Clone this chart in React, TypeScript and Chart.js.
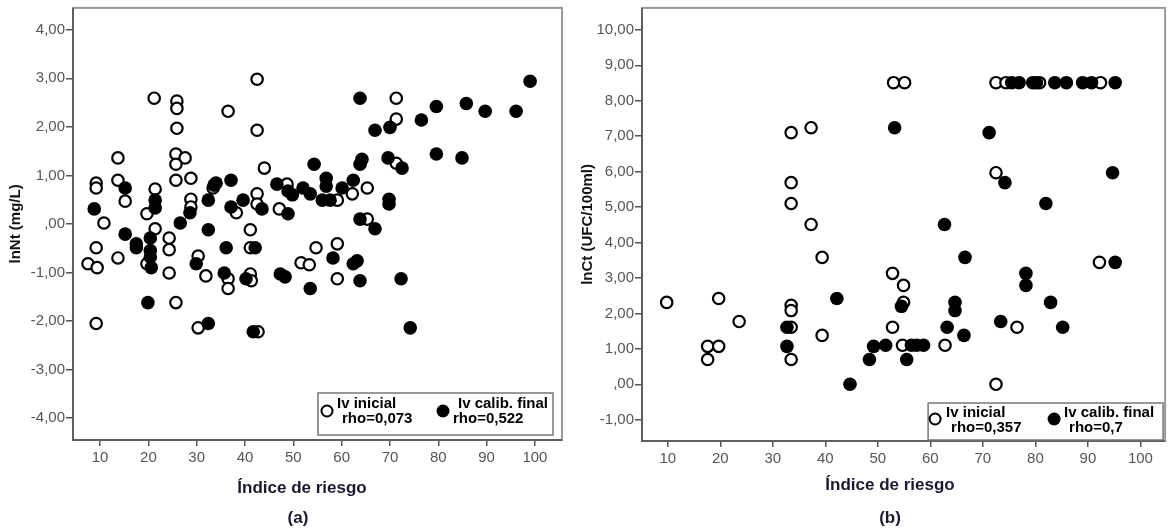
import React, { useEffect, useRef } from "react";
import { Chart, registerables } from "chart.js";

Chart.register(...registerables);

// ---------- DATA ----------
const xTickValues = [10, 20, 30, 40, 50, 60, 70, 80, 90, 100];
const xTickLabels = ["10", "20", "30", "40", "50", "60", "70", "80", "90", "100"];

const yTickValuesA = [-4, -3, -2, -1, 0, 1, 2, 3, 4];
const yTickLabelsA = ["-4,00", "-3,00", "-2,00", "-1,00", ",00", "1,00", "2,00", "3,00", "4,00"];

const yTickValuesB = [-1, 0, 1, 2, 3, 4, 5, 6, 7, 8, 9, 10];
const yTickLabelsB = ["-1,00", ",00", "1,00", "2,00", "3,00", "4,00", "5,00", "6,00", "7,00", "8,00", "9,00", "10,00"];

const seriesNames = ["Iv inicial", "Iv calib. final"];
const rhoLabelsA = ["rho=0,073", "rho=0,522"];
const rhoLabelsB = ["rho=0,357", "rho=0,7"];

const xTitle = "Índice de riesgo";
const yTitleA = "lnNt (mg/L)";
const yTitleB = "lnCt (UFC/100ml)";
const panelLabels = ["(a)", "(b)"];

// Panel (a) - Iv inicial (open circles)
const xOpenA = [7.5, 9.4, 9.2, 9.2, 10.8, 9.2, 9.2, 13.7, 13.7, 15.2, 13.7, 19.7, 21.4, 21.2, 21.4, 19.7, 24.3, 24.3, 24.3, 25.7, 25.9, 25.9, 25.9, 25.7, 27.6, 25.7, 25.7, 28.8, 28.8, 28.8, 30.3, 31.9, 30.3, 33.4, 36.5, 38.2, 36.5, 36.5, 41.1, 41.1, 41.1, 41.3, 42.7, 42.5, 42.5, 44.0, 42.5, 42.5, 47.1, 48.7, 51.6, 53.3, 54.7, 59.1, 59.1, 59.1, 62.2, 65.3, 65.3, 71.3, 71.3, 71.3];
const yOpenA = [-0.82, -0.9, 0.84, 0.74, 0.02, -0.49, -2.05, 1.36, 0.9, 0.47, -0.7, 0.21, 0.72, 2.59, -0.1, -0.82, -0.29, -0.53, -1.01, -1.62, 2.53, 2.38, 1.97, 1.44, 1.36, 1.23, 0.9, 0.94, 0.51, 0.35, -0.66, -1.07, -2.14, 0.74, 2.32, 0.23, -1.13, -1.33, -0.12, -0.49, -1.03, -1.17, -2.22, 2.98, 1.93, 1.15, 0.62, 0.41, 0.31, 0.82, -0.8, -0.84, -0.49, 0.49, -0.41, -1.13, 0.62, 0.74, 0.1, 2.59, 2.16, 1.25];

// Panel (a) - Iv calib. final (filled circles)
const xFillA = [8.8, 15.2, 15.2, 17.5, 17.5, 21.4, 21.4, 20.4, 20.4, 20.4, 20.6, 19.9, 28.6, 26.6, 29.9, 32.4, 32.4, 32.4, 34.0, 33.6, 37.1, 37.1, 36.1, 35.7, 39.6, 40.2, 42.1, 41.7, 43.5, 46.6, 48.9, 49.8, 48.9, 47.3, 48.3, 52.0, 53.5, 54.3, 56.8, 56.8, 56.0, 57.6, 60.1, 62.4, 58.2, 62.4, 63.2, 53.5, 63.8, 63.8, 66.9, 63.8, 64.2, 63.8, 66.9, 70.0, 69.6, 72.5, 69.8, 69.8, 72.3, 74.2, 76.5, 79.6, 79.6, 84.9, 85.8, 89.7, 96.1, 99.0];
const yFillA = [0.31, 0.74, -0.21, -0.41, -0.49, 0.49, 0.33, -0.29, -0.55, -0.68, -0.9, -1.62, 0.23, 0.02, -0.82, -2.05, 0.49, -0.12, 0.84, 0.8, 0.9, 0.35, -0.49, -1.01, 0.49, -1.13, -0.49, -2.22, 0.31, 0.82, 0.68, 0.6, 0.21, -1.03, -1.09, 0.74, 0.62, 1.23, 0.94, 0.78, 0.49, 0.49, 0.74, 0.9, -0.7, -0.82, -0.76, -1.33, -1.17, 0.1, -0.1, 2.59, 1.33, 1.23, 1.93, 1.99, 1.36, 1.15, 0.51, 0.41, -1.13, -2.14, 2.14, 2.42, 1.44, 1.36, 2.48, 2.32, 2.32, 2.94];

// Panel (b) - Iv inicial (open circles)
const xOpenB = [9.8, 17.6, 17.6, 19.7, 19.7, 23.6, 33.5, 33.5, 33.5, 33.5, 33.5, 33.5, 33.5, 37.3, 37.3, 39.4, 39.4, 52.8, 54.9, 54.9, 52.8, 54.7, 62.8, 76.5, 72.5, 92.2, 53.0, 55.1, 72.5, 74.4, 80.8, 92.4, 72.5];
const yOpenB = [2.31, 1.07, 0.7, 2.42, 1.07, 1.77, 7.1, 5.69, 5.1, 2.23, 2.08, 1.61, 0.7, 7.24, 4.51, 3.58, 1.38, 3.13, 2.79, 2.31, 1.61, 1.1, 1.1, 1.61, 0.0, 3.44, 8.51, 8.51, 8.51, 8.51, 8.51, 8.51, 5.97];

// Panel (b) - Iv calib. final (filled circles)
const xFillB = [32.7, 32.7, 42.2, 44.7, 48.4, 49.2, 51.5, 54.5, 56.4, 57.4, 58.7, 55.5, 63.2, 64.7, 64.7, 66.4, 73.4, 78.2, 78.2, 82.9, 85.2, 95.2, 75.5, 76.9, 79.5, 80.2, 83.7, 85.9, 89.0, 90.7, 95.2, 53.2, 71.2, 74.2, 94.7, 82.0, 62.7, 66.6];
const yFillB = [1.61, 1.07, 2.42, 0.0, 0.7, 1.07, 1.1, 2.2, 1.1, 1.1, 1.1, 0.7, 1.61, 2.31, 2.08, 1.38, 1.77, 3.13, 2.79, 2.31, 1.61, 3.44, 8.51, 8.51, 8.51, 8.51, 8.51, 8.51, 8.51, 8.51, 8.51, 7.24, 7.1, 5.69, 5.97, 5.1, 4.51, 3.58];

// ---------- HELPERS ----------
const FONT = '"Liberation Sans", Arial, sans-serif';
const zip = (xs: number[], ys: number[]) => xs.map((x, i) => ({ x, y: ys[i] }));

const framePlugin = {
  id: "frame",
  beforeDatasetsDraw(chart: any) {
    const { ctx, chartArea: a } = chart;
    ctx.save();
    ctx.strokeStyle = "#9a9a9a";
    ctx.lineWidth = 2;
    ctx.strokeRect(a.left, a.top, a.right - a.left, a.bottom - a.top);
    ctx.strokeStyle = "#5f5f5f";
    ctx.beginPath();
    ctx.moveTo(a.left, a.top);
    ctx.lineTo(a.left, a.bottom);
    ctx.lineTo(a.right, a.bottom);
    ctx.stroke();
    ctx.restore();
  },
};

const boxLegendPlugin = {
  id: "boxLegend",
  afterDatasetsDraw(chart: any, _args: any, opts: any) {
    if (!opts || !opts.items) return;
    const { ctx, chartArea: a } = chart;
    const bx = a.right - opts.right - opts.w;
    const by = a.bottom - opts.bottom - opts.h;
    ctx.save();
    ctx.fillStyle = "#fff";
    ctx.fillRect(bx, by, opts.w, opts.h);
    ctx.strokeStyle = "#777";
    ctx.lineWidth = 1.5;
    ctx.strokeRect(bx, by, opts.w, opts.h);
    ctx.font = `bold 15px ${FONT}`;
    ctx.textBaseline = "middle";
    ctx.textAlign = "left";
    for (const it of opts.items) {
      ctx.beginPath();
      if (it.filled) {
        ctx.arc(bx + it.cx, by + it.cy, 6.5, 0, Math.PI * 2);
        ctx.fillStyle = "#000";
        ctx.fill();
      } else {
        ctx.arc(bx + it.cx, by + it.cy, 5.5, 0, Math.PI * 2);
        ctx.fillStyle = "#fff";
        ctx.fill();
        ctx.strokeStyle = "#000";
        ctx.lineWidth = 2;
        ctx.stroke();
      }
      ctx.fillStyle = "#000";
      ctx.fillText(it.label, bx + it.tx, by + it.ty);
      ctx.fillText(it.rho, bx + it.rx, by + it.ry);
    }
    ctx.restore();
  },
};

function makeConfig(p: any) {
  const tickFont = { family: FONT, size: 15 };
  return {
    type: "scatter",
    data: {
      datasets: [
        {
          label: seriesNames[0],
          data: zip(p.xOpen, p.yOpen),
          pointRadius: 5.7,
          pointBorderWidth: 2.2,
          pointBackgroundColor: "#fff",
          pointBorderColor: "#000",
          order: 1,
        },
        {
          label: seriesNames[1],
          data: zip(p.xFill, p.yFill),
          pointRadius: 6.8,
          pointBorderWidth: 0,
          pointBackgroundColor: "#000",
          pointBorderColor: "#000",
          order: 0,
        },
      ],
    },
    options: {
      animation: false,
      responsive: false,
      maintainAspectRatio: false,
      devicePixelRatio: 1,
      layout: { padding: p.padding },
      plugins: {
        legend: { display: false },
        tooltip: { enabled: false },
        boxLegend: p.legend,
      },
      scales: {
        x: {
          type: "linear",
          min: p.xMin,
          max: p.xMax,
          afterBuildTicks: (s: any) => {
            s.ticks = xTickValues.map((v) => ({ value: v }));
          },
          afterFit: (s: any) => {
            s.height = p.xHeight;
            s.paddingLeft = 0;
            s.paddingRight = 0;
            s.paddingTop = 0;
            s.paddingBottom = 0;
          },
          ticks: {
            autoSkip: false,
            maxRotation: 0,
            padding: 3,
            color: "#555",
            font: tickFont,
            callback: (v: number) => xTickLabels[xTickValues.indexOf(v)] ?? "",
          },
          grid: { drawOnChartArea: false, drawTicks: true, tickLength: 6, color: "#555", lineWidth: 1.5 },
          border: { display: false },
        },
        y: {
          type: "linear",
          min: p.yMin,
          max: p.yMax,
          afterBuildTicks: (s: any) => {
            s.ticks = p.yVals.map((v: number) => ({ value: v }));
          },
          afterFit: (s: any) => {
            s.width = p.yWidth;
            s.paddingLeft = 0;
            s.paddingRight = 0;
            s.paddingTop = 0;
            s.paddingBottom = 0;
          },
          ticks: {
            autoSkip: false,
            padding: 1,
            color: "#555",
            font: tickFont,
            callback: (v: number) => p.yLabels[p.yVals.indexOf(v)] ?? "",
          },
          grid: { drawOnChartArea: false, drawTicks: true, tickLength: 7, color: "#555", lineWidth: 1.5 },
          border: { display: false },
          title: {
            display: true,
            text: p.yTitle,
            color: "#111",
            font: { family: FONT, size: 15, weight: "bold" },
            padding: { top: p.yTitlePad, bottom: 0 },
          },
        },
      },
    },
    plugins: [framePlugin, boxLegendPlugin],
  };
}

const panelA = {
  xOpen: xOpenA, yOpen: yOpenA, xFill: xFillA, yFill: yFillA,
  xMin: 4.4, xMax: 105.6, yMin: -4.45, yMax: 4.45,
  yVals: yTickValuesA, yLabels: yTickLabelsA, yTitle: yTitleA,
  padding: { left: 0, right: 18, top: 7, bottom: 0 },
  xHeight: 91, yWidth: 73, yTitlePad: 7,
  legend: {
    right: 9, bottom: 5, w: 235, h: 42,
    items: [
      { filled: false, cx: 9, cy: 18, label: seriesNames[0], tx: 19, ty: 11, rho: rhoLabelsA[0], rx: 24, ry: 26 },
      { filled: true, cx: 125, cy: 18, label: seriesNames[1], tx: 140, ty: 11, rho: rhoLabelsA[1], rx: 135, ry: 26 },
    ],
  },
};

const panelB = {
  xOpen: xOpenB, yOpen: yOpenB, xFill: xFillB, yFill: yFillB,
  xMin: 5.1, xMax: 104.7, yMin: -1.6, yMax: 10.62,
  yVals: yTickValuesB, yLabels: yTickLabelsB, yTitle: yTitleB,
  padding: { left: 0, right: 5, top: 7, bottom: 0 },
  xHeight: 90, yWidth: 66, yTitlePad: 3,
  legend: {
    right: 2, bottom: 1, w: 235, h: 37,
    items: [
      { filled: false, cx: 7, cy: 16, label: seriesNames[0], tx: 18, ty: 10, rho: rhoLabelsB[0], rx: 23, ry: 25 },
      { filled: true, cx: 126, cy: 16, label: seriesNames[1], tx: 136, ty: 10, rho: rhoLabelsB[1], rx: 141, ry: 25 },
    ],
  },
};

function Panel({ cfg, left, width }: { cfg: any; left: number; width: number }) {
  const ref = useRef<HTMLCanvasElement>(null);
  useEffect(() => {
    if (!ref.current) return;
    const chart = new Chart(ref.current, makeConfig(cfg) as any);
    return () => chart.destroy();
  }, [cfg]);
  return (
    <canvas
      ref={ref}
      width={width}
      height={531}
      style={{ position: "absolute", left, top: 0, width, height: 531 }}
    />
  );
}

const textStyle = (x: number, y: number): React.CSSProperties => ({
  position: "absolute",
  left: x,
  top: y,
  transform: "translate(-50%, -50%)",
  fontFamily: FONT,
  fontWeight: "bold",
  fontSize: 17,
  color: "#1a1a2e",
  whiteSpace: "nowrap",
  lineHeight: 1,
});

export default function App() {
  return (
    <div style={{ position: "absolute", left: 0, top: 0, width: 1173, height: 531, background: "#fff", overflow: "hidden" }}>
      <Panel cfg={panelA} left={0} width={580} />
      <Panel cfg={panelB} left={576} width={597} />
      <div style={textStyle(302, 487)}>{xTitle}</div>
      <div style={textStyle(890, 484)}>{xTitle}</div>
      <div style={textStyle(298, 517)}>{panelLabels[0]}</div>
      <div style={textStyle(890, 517)}>{panelLabels[1]}</div>
    </div>
  );
}
